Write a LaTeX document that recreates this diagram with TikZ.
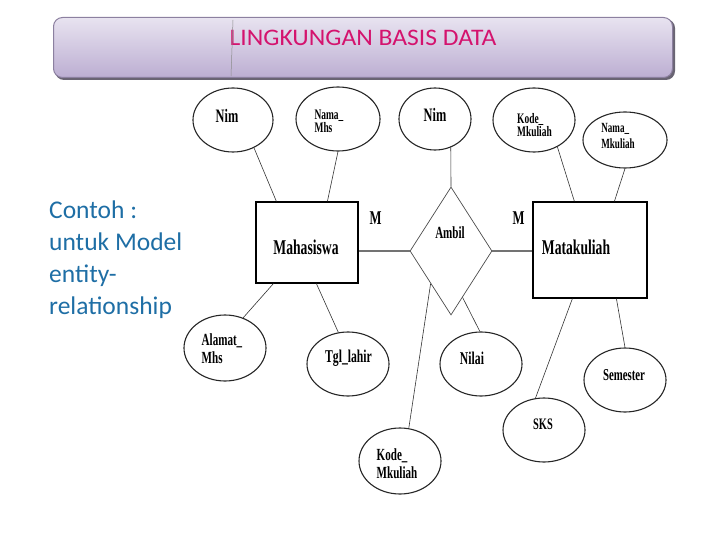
\documentclass[tikz,border=0pt]{standalone}
\usepackage{fontspec}
\usetikzlibrary{shapes.geometric,calc}
\setmainfont{Carlito}
\newfontfamily\erfont[FakeStretch=0.65]{Liberation Serif}
\newfontfamily\titlefont[FakeStretch=1.08]{Carlito}
\definecolor{titlemag}{RGB}{212,19,110}
\definecolor{sideblue}{RGB}{30,110,165}
\definecolor{bantop}{RGB}{232,227,240}
\definecolor{banbot}{RGB}{188,174,210}
\definecolor{banborder}{RGB}{140,128,160}
\definecolor{banshadow}{RGB}{105,100,115}
\definecolor{linkgray}{RGB}{115,115,115}
\newcommand{\erf}[2]{\erfont\bfseries\fontsize{#1}{#2}\selectfont}
\tikzset{
  attr/.style={ellipse, draw=black!85, line width=1.1pt, inner sep=0pt},
  ent/.style={rectangle, draw=black, line width=1.2pt, inner sep=0pt},
  rel/.style={diamond, draw=black!70, line width=0.7pt, inner sep=0pt},
  conn/.style={draw=black!80, line width=0.6pt},
  thickconn/.style={draw=linkgray, line width=2pt},
  lbl/.style={inner sep=0pt, align=left, text=black},
}
\begin{document}
\begin{tikzpicture}[x=1pt,y=-1pt]
\useasboundingbox (0,0) rectangle (720,540);
% banner
\fill[banshadow, rounded corners=9pt] (55,19) rectangle (675,80);
\node[draw=banborder, line width=1pt, rounded corners=9pt, top color=bantop, bottom color=banbot,
      minimum width=619pt, minimum height=60pt, inner sep=0pt] (banner) at (363,47.5) {};
\node[inner sep=0pt, text=titlemag, font={\titlefont\fontsize{23.7}{23.7}\selectfont}] (title) at (363,38) {LINGKUNGAN BASIS DATA};
\draw[black!45, line width=0.5pt] (233,20) -- (231,76);
% side text
\node[inner sep=0pt, anchor=base west, align=left, text=sideblue, font={\fontsize{25.5}{32}\selectfont}] (side) at (49,314)
  {Contoh :\\untuk Model\\entity-\\relationship};
% entities
\node[ent, minimum width=102pt, minimum height=81pt] (mhs) at (307,242.5) {};
\node[ent, minimum width=114pt, minimum height=96pt] (mtk) at (590,250) {};
\node[rel, minimum width=82pt, minimum height=128pt] (amb) at (451,251) {};
\node[lbl, font={\erf{21}{21}}] (tmhs) at (306,247) {Mahasiswa};
\node[lbl, font={\erf{21}{21}}] (tmtk) at (576,247) {Matakuliah};
\node[lbl, font={\erf{17}{17}}] (tamb) at (450,233) {Ambil};
\node[lbl, font={\erf{19.5}{19.5}}] (m1) at (375.5,218) {M};
\node[lbl, font={\erf{19.5}{19.5}}] (m2) at (518.5,218) {M};
% attributes
\node[attr, minimum width=80pt, minimum height=64pt] (nim1) at (233,120) {};
\node[attr, minimum width=84pt, minimum height=64pt] (nmhs) at (338,119) {};
\node[attr, minimum width=72pt, minimum height=62pt] (nim2) at (435,119) {};
\node[attr, minimum width=82pt, minimum height=64pt] (kmk1) at (534,120) {};
\node[attr, minimum width=84pt, minimum height=56pt] (nmk) at (625,140) {};
\node[attr, minimum width=82pt, minimum height=66pt] (alm) at (225,348) {};
\node[attr, minimum width=82pt, minimum height=64pt] (tgl) at (348,364) {};
\node[attr, minimum width=82pt, minimum height=64pt] (nil) at (481,364) {};
\node[attr, minimum width=82pt, minimum height=66pt] (kmk2) at (400,461) {};
\node[attr, minimum width=82pt, minimum height=64pt] (sks) at (544,430) {};
\node[attr, minimum width=82pt, minimum height=64pt] (sem) at (625,380) {};
% attribute texts
\node[lbl, font={\erf{19}{19}}] (tnim1) at (227,116) {Nim};
\node[lbl, font={\erf{14.5}{11}}] (tnmhs) at (329,121) {Nama\_\\Mhs};
\node[lbl, font={\erf{19}{19}}] (tnim2) at (435,115) {Nim};
\node[lbl, font={\erf{14.5}{13}}] (tkmk1) at (534.5,125) {Kode\_\\Mkuliah};
\node[lbl, font={\erf{14}{16}}] (tnmk) at (618,136) {Nama\_\\Mkuliah};
\node[lbl, font={\erf{17}{18}}] (talm) at (222,349) {Alamat\_\\Mhs};
\node[lbl, font={\erf{18}{18}}] (ttgl) at (348.5,358) {Tgl\_lahir};
\node[lbl, font={\erf{18}{18}}] (tnil) at (472,358) {Nilai};
\node[lbl, font={\erf{17}{18}}] (tkmk2) at (397,464) {Kode\_\\Mkuliah};
\node[lbl, font={\erf{16}{16}}] (tsks) at (543,424) {SKS};
\node[lbl, font={\erf{16.6}{16.6}}] (tsem) at (624,375) {Semester};
% connectors
\draw[conn] (nim1.307) -- ($(mhs.north west)+(21,0)$);
\draw[conn] (nmhs.270) -- ($(mhs.north west)+(72,0)$);
\draw[conn] (nim2.299) -- (amb.north);
\draw[conn] (kmk1.311) -- ($(mtk.north west)+(42,0)$);
\draw[conn] (nmk.south) -- ($(mtk.north west)+(82,0)$);
\draw[thickconn] (amb.west) -- (amb.west -| mhs.east);
\draw[thickconn] (amb.east) -- (amb.east -| mtk.west);
\draw[conn] ($(mhs.south west)+(18,0)$) -- (alm.59);
\draw[conn] ($(mhs.south west)+(61,0)$) -- (tgl.107);
\draw[conn] (amb.284) -- (nil.92);
\draw[conn] (amb.238) -- (kmk2.75);
\draw[conn] ($(mtk.south west)+(40,0)$) -- (sks.105);
\draw[conn] ($(mtk.south west)+(84,0)$) -- (sem.north);
\end{tikzpicture}
\end{document}
